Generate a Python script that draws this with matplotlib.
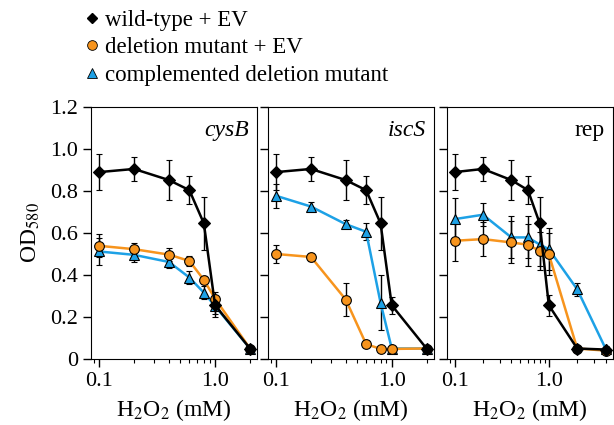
import matplotlib
matplotlib.use('Agg')
import matplotlib.pyplot as plt
from matplotlib.lines import Line2D
from matplotlib.ticker import FixedLocator, FuncFormatter, LogLocator, NullFormatter

plt.rcParams['font.family'] = ['Liberation Serif', 'DejaVu Serif']
plt.rcParams['mathtext.fontset'] = 'stix'

BLACK = '#000000'
ORANGE = '#F7941D'
BLUE = '#1DA1E6'

# H2O2 concentrations (mM)
conc = [0.1, 0.2, 0.4, 0.6, 0.8, 1.0, 2.0]
conc_rep = [0.1, 0.2, 0.4, 0.6, 0.8, 1.0, 2.0, 4.0]

# wild-type + EV (same data in all panels)
wt = [0.89, 0.905, 0.852, 0.804, 0.646, 0.256, 0.05]
wt_err = [0.086, 0.056, 0.094, 0.068, 0.125, 0.04, 0.01]
wt_rep = [0.89, 0.905, 0.852, 0.804, 0.646, 0.256, 0.05, 0.045]
wt_rep_err = [0.086, 0.056, 0.094, 0.068, 0.125, 0.05, 0.01, 0.01]

# cysB
cysb_del = [0.539, 0.523, 0.497, 0.467, 0.377, 0.287, 0.05]
cysb_del_err = [0.055, 0.03, 0.03, 0.025, 0.02, 0.03, 0.01]
cysb_comp = [0.512, 0.496, 0.462, 0.388, 0.316, 0.252, 0.05]
cysb_comp_err = [0.066, 0.035, 0.03, 0.03, 0.03, 0.05, 0.01]

# iscS
iscs_del = [0.50, 0.486, 0.283, 0.071, 0.048, 0.048, 0.05]
iscs_del_err = [0.043, 0.02, 0.078, 0.01, 0.01, 0.01, 0.01]
iscs_comp = [0.777, 0.726, 0.642, 0.606, 0.268, 0.05, 0.05]
iscs_comp_err = [0.057, 0.02, 0.02, 0.04, 0.13, 0.01, 0.01]

# rep
rep_del = [0.563, 0.571, 0.555, 0.544, 0.515, 0.499, 0.05, 0.04]
rep_del_err = [0.095, 0.08, 0.1, 0.1, 0.09, 0.1, 0.01, 0.01]
rep_comp = [0.666, 0.687, 0.579, 0.579, 0.545, 0.523, 0.332, 0.05]
rep_comp_err = [0.1, 0.056, 0.1, 0.1, 0.1, 0.1, 0.03, 0.01]

panels = [
    ('cysB', 'italic', conc, wt, wt_err, cysb_del, cysb_del_err, cysb_comp, cysb_comp_err, (0.085, 2.3)),
    ('iscS', 'italic', conc, wt, wt_err, iscs_del, iscs_del_err, iscs_comp, iscs_comp_err, (0.085, 2.32)),
    ('rep', 'normal', conc_rep, wt_rep, wt_rep_err, rep_del, rep_del_err, rep_comp, rep_comp_err, (0.083, 4.8)),
]

labels = ['wild-type + EV', 'deletion mutant + EV', 'complemented deletion mutant']

W, H = 614, 425
fig = plt.figure(figsize=(W / 100, H / 100), dpi=100)
lefts = [91, 268, 447]
width = 166
bottom, top = 359, 107

for i, (name, style, x, w, we, d, de, c, ce, xlim) in enumerate(panels):
    ax = fig.add_axes([lefts[i] / W, (H - bottom) / H, width / W, (bottom - top) / H])
    common = dict(lw=1.8, elinewidth=1.0, capsize=2, capthick=1.0, ecolor='black',
                  markeredgecolor='black', markeredgewidth=0.8, ms=7)
    ax.errorbar(x, c, yerr=ce, color=BLUE, marker='^', markerfacecolor=BLUE, **common)
    ax.errorbar(x, d, yerr=de, color=ORANGE, marker='o', markerfacecolor=ORANGE, **common)
    ax.errorbar(x, w, yerr=we, color=BLACK, marker='D', markerfacecolor=BLACK,
                **{**common, 'ms': 6})
    ax.set_xscale('log')
    ax.set_xlim(*xlim)
    ax.set_ylim(0, 1.2)
    ax.xaxis.set_major_locator(FixedLocator([0.1, 1.0]))
    ax.xaxis.set_major_formatter(FuncFormatter(lambda v, p: '%.1f' % v))
    ax.xaxis.set_minor_locator(LogLocator(base=10, subs=range(2, 10)))
    ax.xaxis.set_minor_formatter(NullFormatter())
    ax.set_yticks([0, 0.2, 0.4, 0.6, 0.8, 1.0, 1.2])
    ax.tick_params(direction='out', which='major', length=6, width=1, labelsize=16)
    ax.tick_params(direction='out', which='minor', length=3, width=0.8)
    if i == 0:
        ax.set_yticklabels(['0', '0.2', '0.4', '0.6', '0.8', '1.0', '1.2'])
        ax.set_ylabel('OD$_{580}$', fontsize=17, labelpad=6)
    else:
        ax.set_yticklabels([])
    ax.set_xlabel('H$_2$O$_2$ (mM)', fontsize=17, labelpad=4)
    ax.text(0.95, 0.95, name, transform=ax.transAxes, ha='right', va='top',
            fontsize=17, style=style)

handles = [
    Line2D([], [], ls='none', marker='D', color=BLACK, ms=5, markeredgecolor='black'),
    Line2D([], [], ls='none', marker='o', color=ORANGE, ms=7, markeredgecolor='black', markeredgewidth=0.6),
    Line2D([], [], ls='none', marker='^', color=BLUE, ms=7, markeredgecolor='black', markeredgewidth=0.6),
]
fig.legend(handles, labels, loc='upper left', bbox_to_anchor=(71 / W, 1.01), frameon=False,
           fontsize=16.5, handlelength=0.6, handletextpad=0.3, labelspacing=0.3,
           borderaxespad=0.2)

fig.savefig('out.png', dpi=100)
